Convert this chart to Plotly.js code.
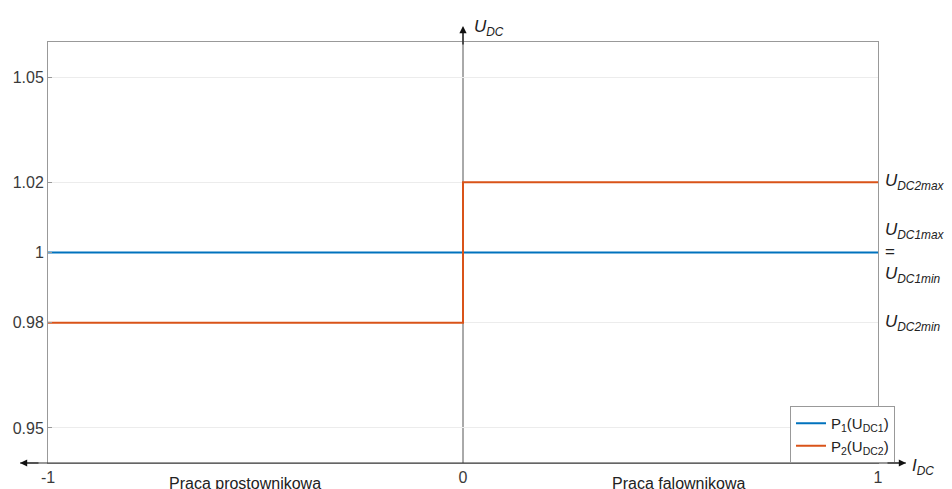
<!DOCTYPE html>
<html><head><meta charset="utf-8">
<script src="https://cdn.plot.ly/plotly-3.0.1.min.js"></script>
<style>html,body{margin:0;padding:0;background:#fff}#c{width:952px;height:489px}</style>
</head><body><div id="c"></div>
<script>
const p1X = [-1, 1];
const p1Y = [1, 1];
const p2X = [-1, 0, 0, 1];
const p2Y = [0.98, 0.98, 1.02, 1.02];
const yTicks = [0.95, 0.98, 1, 1.02, 1.05];
const yTickText = ['0.95', '0.98', '1', '1.02', '1.05'];
const xTicks = [-1, 0, 1];
const xTickText = ['-1', '0', '1'];
const legendNames = ['P<sub>1</sub>(U<sub>DC1</sub>)', 'P<sub>2</sub>(U<sub>DC2</sub>)'];
const regionLabels = ['Praca prostownikowa', 'Praca falownikowa'];
const levelLabels = [
  {y: 1.02, text: '<i>U<sub>DC2max</sub></i>'},
  {y: 1.0, text: '<i>U<sub>DC1max</sub></i><br>=<br><i>U<sub>DC1min</sub></i>'},
  {y: 0.98, text: '<i>U<sub>DC2min</sub></i>'}
];

const FF = 'Arial, Liberation Sans, sans-serif';
const traces = [
  {x: p1X, y: p1Y, mode: 'lines', name: legendNames[0], line: {color: '#0072BD', width: 2}},
  {x: p2X, y: p2Y, mode: 'lines', name: legendNames[1], line: {color: '#D95319', width: 2}}
];

const txt = '#3a3a3a';
const annotations = [];
levelLabels.forEach(l => annotations.push({
  x: 1, xref: 'paper', xanchor: 'left', xshift: 5, y: l.y, yref: 'y', yanchor: 'middle',
  text: l.text, showarrow: false, align: 'left', font: {family: FF, size: 17, color: '#222'}
}));
annotations.push({x: -0.525, xref: 'x', y: 0, yref: 'paper', yanchor: 'top', yshift: -10, text: regionLabels[0], showarrow: false, font: {family: FF, size: 16, color: '#222'}});
annotations.push({x: 0.52, xref: 'x', y: 0, yref: 'paper', yanchor: 'top', yshift: -10, text: regionLabels[1], showarrow: false, font: {family: FF, size: 16, color: '#222'}});
// axis labels
annotations.push({x: 0.5, xref: 'paper', xanchor: 'left', xshift: 9, y: 1, yref: 'paper', yanchor: 'bottom', yshift: 1, text: '<i>U<sub>DC</sub></i>', showarrow: false, font: {family: FF, size: 17, color: '#222'}});
annotations.push({x: 1, xref: 'paper', xanchor: 'left', xshift: 32, y: 0, yref: 'paper', yanchor: 'middle', yshift: -4, text: '<i>I<sub>DC</sub></i>', showarrow: false, font: {family: FF, size: 17, color: '#222'}});
// arrowheads
annotations.push({x: -28/830, xref: 'paper', y: 0, yref: 'paper', ax: 20, ay: 0, text: '', showarrow: true, arrowhead: 2, arrowsize: 1.2, arrowwidth: 1.2, arrowcolor: '#111'});
annotations.push({x: 1 + 28/830, xref: 'paper', y: 0, yref: 'paper', ax: -20, ay: 0, text: '', showarrow: true, arrowhead: 2, arrowsize: 1.2, arrowwidth: 1.2, arrowcolor: '#111'});
annotations.push({x: 0.5, xref: 'paper', y: 1 + 16/421, yref: 'paper', ax: 0, ay: 20, text: '', showarrow: true, arrowhead: 2, arrowsize: 1.2, arrowwidth: 1.2, arrowcolor: '#111'});

const shapes = [
  {type: 'line', xref: 'paper', yref: 'paper', x0: -28/830, x1: 1 + 28/830, y0: 0, y1: 0, line: {color: '#333', width: 1.2}},
  {type: 'line', xref: 'paper', yref: 'paper', x0: 0.5, x1: 0.5, y0: 0, y1: 1 + 14/421, line: {color: '#555', width: 1}, layer: 'below'}
];

const layout = {
  width: 952, height: 489,
  margin: {l: 48, r: 74, t: 42, b: 26},
  paper_bgcolor: '#fff', plot_bgcolor: '#fff',
  font: {family: FF, size: 16, color: txt},
  showlegend: true,
  legend: {x: 1.0205, xanchor: 'right', y: 0, yanchor: 'bottom', bgcolor: '#fff', bordercolor: '#999', borderwidth: 1,
    font: {family: FF, size: 15, color: '#222'}, tracegroupgap: 0, itemwidth: 30},
  xaxis: {range: [-1, 1], tickvals: xTicks, ticktext: xTickText, showgrid: false, zeroline: false,
    showline: true, mirror: true, linecolor: '#999', linewidth: 1, ticks: '', tickfont: {family: FF, size: 16, color: txt}},
  yaxis: {range: [0.94, 1.06], tickvals: yTicks, ticktext: yTickText, showgrid: true, gridcolor: '#ececec',
    zeroline: false, showline: true, mirror: true, linecolor: '#999', linewidth: 1, ticks: 'inside', ticklen: 4,
    tickcolor: '#999', tickfont: {family: FF, size: 16, color: txt}},
  annotations: annotations,
  shapes: shapes
};
Plotly.newPlot('c', traces, layout, {displayModeBar: false, staticPlot: true});
</script></body></html>
